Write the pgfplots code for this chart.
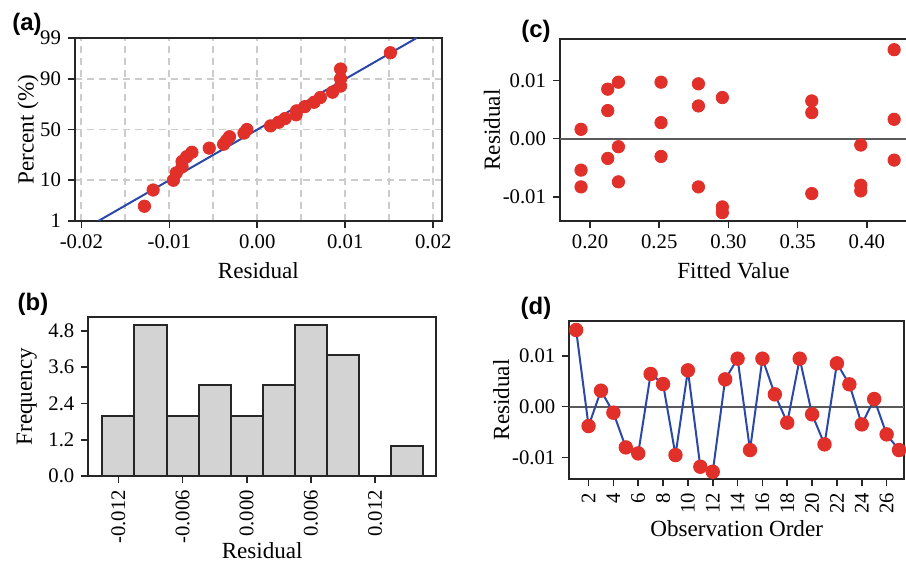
\documentclass[border=0pt]{standalone}
\usepackage{fontspec}
\setmainfont{Liberation Serif}
\newfontfamily\panelfont{Liberation Sans}
\usepackage{pgfplots}
\pgfplotsset{compat=1.18}

\definecolor{ptred}{HTML}{E1302A}
\definecolor{fitblue}{HTML}{2B48A6}
\definecolor{histgray}{HTML}{D3D3D3}
\definecolor{gridgray}{HTML}{CCCCCC}
\definecolor{zerogray}{HTML}{5A5A5A}

\pgfplotsset{
  panel/.style={
    scale only axis, anchor=south west,
    axis line style={line width=1bp, black!85},
    tick align=outside, tick pos=left,
    major tick length=3.5bp,
    major tick style={black!85, line width=0.8bp},
    ticklabel style={font=\fontsize{10.4}{12}\selectfont},
    label style={font=\fontsize{11.6}{13}\selectfont},
    /pgf/number format/assume math mode=true,
    scaled ticks=false,
  },
  dots/.style={only marks, mark=*, mark size=3.1bp,
    mark options={fill=ptred, draw=ptred}},
}
\tikzset{plab/.style={font=\panelfont\bfseries\fontsize{12}{14}\selectfont}}

\begin{document}
\begin{tikzpicture}
\useasboundingbox (0,0) rectangle (453bp,282bp);

% (a) normal probability plot
\begin{axis}[panel, at={(37.5bp,171.5bp)}, width=183.3bp, height=91.5bp,
  xmin=-0.02072, xmax=0.02095, ymin=-2.326, ymax=2.326,
  xtick={-0.02,-0.01,0,0.01,0.02}, xticklabels={-0.02,-0.01,0.00,0.01,0.02},
  minor xtick={-0.015,-0.005,0.005,0.015}, minor tick length=0pt,
  ytick={-2.326,-1.2816,0,1.2816,2.326}, yticklabels={1,10,50,90,99},
  grid=both,
  major grid style={gridgray, line width=0.9bp, dash pattern=on 3.5bp off 2.5bp},
  minor grid style={gridgray, line width=0.9bp, dash pattern=on 3.5bp off 2.5bp},
  xlabel={Residual}, ylabel={Percent (\%)}, ylabel shift=-6bp]
\addplot[fitblue, line width=1bp] coordinates {(-0.01807,-2.326) (0.01811,2.326)};
\addplot[dots] coordinates {
(-0.01283,-1.951) (-0.01184,-1.538) (-0.00954,-1.290) (-0.00921,-1.103)
(-0.00855,-0.948) (-0.00855,-0.813) (-0.00803,-0.692) (-0.00743,-0.580)
(-0.00546,-0.474) (-0.00382,-0.374) (-0.00349,-0.278) (-0.00316,-0.184)
(-0.00151,-0.0916) (-0.00118,0) (0.00151,0.0916) (0.00243,0.184)
(0.00316,0.278) (0.00441,0.374) (0.00447,0.474) (0.00539,0.580)
(0.00645,0.692) (0.00717,0.813) (0.00855,0.948) (0.00947,1.103)
(0.00947,1.290) (0.00947,1.538) (0.01513,1.951)};
\end{axis}

% (b) histogram
\begin{axis}[panel, at={(44.2bp,44bp)}, width=173.8bp, height=79.35bp,
  xmin=-0.0148, xmax=0.01769, ymin=0, ymax=5.25,
  xtick={-0.012,-0.006,0,0.006,0.012},
  xticklabels={-0.012,-0.006,0.000,0.006,0.012},
  xticklabel style={rotate=90, anchor=east},
  ytick={0,1.2,2.4,3.6,4.8}, yticklabels={0.0,1.2,2.4,3.6,4.8},
  xlabel={Residual}, ylabel={Frequency}, xlabel shift=-5bp, ylabel shift=-1bp,
  xlabel style={inner sep=1bp}]
\addplot[ybar, bar width=0.003, fill=histgray, draw=black!85, line width=1bp]
  coordinates {(-0.012,2) (-0.009,5) (-0.006,2) (-0.003,3) (0,2)
               (0.003,3) (0.006,5) (0.009,4) (0.012,0) (0.015,1)};
\end{axis}

% (c) residual vs fitted
\begin{axis}[panel, at={(280bp,171.5bp)}, width=173.5bp, height=91bp,
  xmin=0.1783, xmax=0.4290, ymin=-0.01414, ymax=0.01713,
  xtick={0.2,0.25,0.3,0.35,0.4}, xticklabels={0.20,0.25,0.30,0.35,0.40},
  ytick={-0.01,0,0.01}, yticklabels={-0.01,0.00,0.01},
  xlabel={Fitted Value}, ylabel={Residual}, ylabel shift=-5.5bp]
\addplot[zerogray, line width=1bp] coordinates {(0.1783,0) (0.4290,0)};
\addplot[dots] coordinates {
(0.4197,0.01529) (0.4197,0.00333) (0.4197,-0.00368)
(0.3956,-0.00109) (0.3956,-0.00799) (0.3956,-0.00897)
(0.3602,0.00649) (0.3602,0.00448) (0.3602,-0.00943)
(0.2956,0.00707) (0.2956,-0.01172) (0.2956,-0.01270)
(0.2783,0.00943) (0.2783,0.00563) (0.2783,-0.00828)
(0.2513,0.00971) (0.2513,0.00276) (0.2513,-0.00305)
(0.2205,0.00971) (0.2205,-0.00138) (0.2205,-0.00741)
(0.2128,0.00851) (0.2128,0.00483) (0.2128,-0.00339)
(0.1935,0.00161) (0.1935,-0.00540) (0.1935,-0.00828)};
\end{axis}

% (d) residual vs order
\begin{axis}[panel, at={(284.65bp,42.5bp)}, width=167.35bp, height=79.15bp,
  xmin=0.45, xmax=27.4, ymin=-0.01426, ymax=0.01696,
  xtick={2,4,...,26}, xticklabel style={rotate=90, anchor=east},
  ytick={-0.01,0,0.01}, yticklabels={-0.01,0.00,0.01},
  xlabel={Observation Order}, ylabel={Residual},
  xlabel shift=-3.5bp, ylabel shift=-5.5bp]
\addplot[zerogray, line width=1bp] coordinates {(0.45,0) (27.4,0)};
\addplot[fitblue, line width=1bp, mark=*, mark size=3.1bp,
  mark options={fill=ptred, draw=ptred}] coordinates {
(1,0.01513) (2,-0.00382) (3,0.00316) (4,-0.00118) (5,-0.00803)
(6,-0.00921) (7,0.00645) (8,0.00447) (9,-0.00954) (10,0.00717)
(11,-0.01184) (12,-0.01283) (13,0.00539) (14,0.00947) (15,-0.00855)
(16,0.00947) (17,0.00243) (18,-0.00316) (19,0.00947) (20,-0.00151)
(21,-0.00743) (22,0.00855) (23,0.00441) (24,-0.00349) (25,0.00151)
(26,-0.00546) (27,-0.00855)};
\end{axis}

\node[plab] at (13.5bp,270bp) {(a)};
\node[plab] at (16.5bp,130bp) {(b)};
\node[plab] at (268bp,266.5bp) {(c)};
\node[plab] at (268bp,127.75bp) {(d)};
\end{tikzpicture}
\end{document}
